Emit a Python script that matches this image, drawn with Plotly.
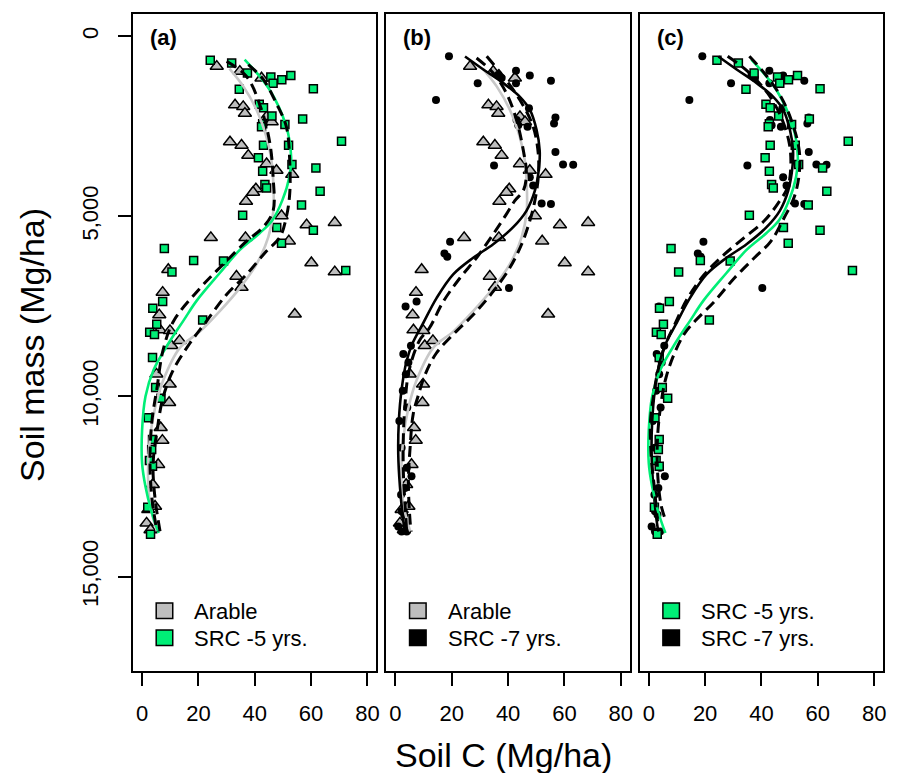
import plotly.graph_objects as go

# ---------------- data ----------------
arable_x = [26.5, 34.7, 42.4, 33.0, 35.9, 36.5, 44.2, 46.0, 31.2, 35.3, 37.7, 44.2, 47.7, 53.3,
            40.4, 39.4, 36.9, 49.5, 58.4, 68.4, 24.4, 36.7, 52.1, 60.1, 68.4, 9.3, 33.5, 35.3,
            7.3, 6.1, 54.2, 6.4, 9.9, 10.4, 13.3, 5.1, 9.8, 9.6, 6.6, 7.2, 5.7, 3.8, 2.2, 4.6,
            1.6, 3.0]
arable_y = [838, 977, 1164, 1910, 1956, 2143, 2236, 2376, 2935, 3028, 3308, 3541, 3727, 3839,
            4240, 4333, 4585, 4985, 5237, 5172, 5591, 5591, 5685, 6290, 6542, 6477, 6663, 6971,
            7111, 7735, 7716, 8154, 8172, 8590, 8450, 9380, 9658, 10169, 10866, 11219, 11888,
            12445, 13142, 13049, 13514, 13700]

src5_x = [24.2, 31.8, 37.4, 45.7, 49.6, 46.5, 52.8, 34.5, 60.8, 41.6, 43.1, 46.1, 57.0, 42.8,
          42.4, 50.7, 70.8, 43.1, 52.0, 41.3, 53.2, 61.7, 42.8, 63.2, 43.6, 44.2, 56.6, 35.7,
          47.8, 60.8, 49.5, 7.9, 28.9, 18.3, 10.6, 72.3, 7.3, 3.8, 21.5, 5.2, 2.7, 4.4, 3.7,
          4.8, 6.7, 2.2, 3.7, 3.4, 2.6, 3.7, 2.0, 3.0]
src5_y = [670, 744, 1024, 1136, 1210, 1304, 1089, 1471, 1462, 1891, 1984, 2217, 2301, 2431,
          2515, 2450, 2916, 3028, 3028, 3373, 3559, 3662, 3746, 4305, 4119, 4212, 4687, 4967,
          5312, 5386, 5750, 5890, 6243, 6225, 6542, 6505, 7362, 7549, 7875, 7996, 8218, 8283,
          8915, 9751, 10048, 10587, 11191, 11470, 11776, 11934, 13077, 13820]

src7_x = [19.0, 42.8, 36.5, 47.7, 37.7, 55.2, 29.2, 42.8, 14.4, 47.4, 56.8, 43.0, 56.3, 43.6,
          46.9, 56.8, 59.5, 63.1, 35.0, 47.7, 48.9, 51.9, 55.2, 19.4, 17.4, 18.4, 40.3, 3.6,
          7.5, 5.5, 2.8, 4.6, 3.7, 2.6, 4.2, 1.4, 2.2, 4.0, 5.7, 3.4, 2.0, 2.2, 3.1, 1.0, 2.2,
          4.0]
src7_y = [558, 959, 1071, 1089, 1164, 1238, 1304, 1304, 1770, 2003, 2254, 2329, 2422, 2469,
          2515, 3214, 3559, 3569, 3587, 3913, 4147, 4641, 4660, 5703, 6029, 6122, 6989, 7502,
          7362, 8590, 8822, 9054, 9380, 9844, 10308, 10680, 11423, 11980, 12213, 12538, 12724,
          13188, 13281, 13607, 13746, 13746]

# fitted curves
fit_arable_x = [31.0, 36.0, 40.6, 44.1, 45.9, 46.6, 46.6, 44.8, 40.6, 34.6, 27.5, 20.5, 13.4,
                7.4, 4.6, 2.8, 2.1, 2.8, 5.3]
fit_arable_y = [900, 1400, 2040, 2790, 3430, 4100, 4850, 5580, 6330, 7000, 7640, 8200, 8650,
                9570, 10320, 11150, 12070, 12990, 13750]

fit_src5_x = [36.4, 45.2, 51.2, 52.9, 52.3, 49.8, 46.3, 41.7, 34.6, 27.5, 19.4, 14.8, 9.5, 4.1,
              1.2, 0.0, 0.0, 1.2, 3.5, 5.9]
fit_src5_y = [650, 1480, 2510, 3350, 3900, 4550, 5100, 5470, 5940, 6580, 7340, 7880, 8510, 9260,
              10000, 10925, 11850, 12500, 13240, 13790]

fit_src7_x = [24.7, 31.2, 38.3, 44.1, 47.7, 50.1, 51.2, 51.0, 49.5, 46.5, 41.8, 34.7, 27.6, 20.5,
              14.6, 9.6, 6.2, 4.0, 2.2, 1.2, 1.0, 1.6, 2.8, 3.4]
fit_src7_y = [565, 925, 1304, 1678, 2040, 2598, 3169, 3629, 4287, 4847, 5301, 5775, 6151, 6611,
              7269, 8000, 8500, 9000, 9800, 10700, 11600, 12500, 13450, 13750]

# dashed lines, per panel
a_d1_x = [30.0, 37.1, 42.4, 45.4, 46.5, 46.5, 43.0, 37.1, 28.8, 20.5, 11.1, 7.4, 5.3, 3.5, 2.8, 3.5, 5.3]
a_d1_y = [700, 1120, 2040, 2990, 3900, 4850, 5300, 5690, 6330, 7000, 7920, 8730, 9760, 10680, 11800, 12830, 13750]
a_d2_x = [37.7, 43.0, 47.7, 51.2, 52.4, 52.4, 51.2, 48.9, 44.1, 37.1, 30.0, 22.5, 16.9, 10.9, 7.4, 5.3, 3.9, 4.6, 6.4]
a_d2_y = [790, 1200, 1870, 2510, 3450, 4380, 5020, 5580, 5970, 6610, 7170, 7950, 8530, 9290, 10040, 10960, 11880, 12830, 13750]

b_d1_x = [28.8, 34.7, 39.4, 43.0, 45.4, 46.5, 45.4, 42.4, 39.4, 34.7, 28.8, 22.9, 17.0, 12.0, 8.5, 4.8, 3.4, 2.8, 2.8, 3.4, 4.0]
b_d1_y = [605, 1023, 1583, 2330, 3169, 3821, 4287, 4565, 4939, 5496, 6151, 6711, 7363, 8107, 8451, 9290, 10210, 11150, 12070, 12990, 13750]
b_d2_x = [32.4, 38.3, 44.2, 48.9, 50.7, 50.7, 49.5, 47.7, 44.8, 40.6, 34.7, 27.6, 21.5, 14.5, 10.5, 8.0, 6.3, 5.2, 4.6, 5.2, 5.6]
b_d2_y = [557, 1118, 1770, 2514, 3261, 3913, 4565, 5125, 5775, 6430, 7085, 7734, 8200, 8800, 9400, 10000, 10490, 11430, 12350, 13467, 13750]

c_d1_x = [28.0, 35.1, 42.2, 46.9, 49.9, 50.4, 49.3, 45.7, 41.0, 33.9, 26.8, 19.7, 13.8, 9.1, 5.5, 3.0, 1.8, 0.6, 0.8, 2.0, 3.1]
c_d1_y = [557, 978, 1583, 2235, 2982, 3634, 4195, 4660, 5125, 5591, 6057, 6616, 7269, 8016, 8637, 9380, 9930, 10680, 11600, 12548, 13467]
c_d2_x = [35.7, 41.0, 46.9, 51.0, 53.4, 53.4, 51.6, 48.1, 43.4, 37.5, 30.4, 23.3, 16.5, 12.6, 9.0, 6.1, 4.3, 3.1, 3.1, 4.3, 6.1]
c_d2_y = [557, 1023, 1678, 2422, 3169, 3821, 4473, 5034, 5686, 6151, 6711, 7363, 7900, 8265, 8823, 9480, 10210, 11150, 12070, 12990, 13467]

x_ticks = [0, 20, 40, 60, 80]
y_ticks = [0, 5000, 10000, 15000]
y_ticktext = ["0", "5,000", "10,000", "15,000"]
panel_letters = ["(a)", "(b)", "(c)"]
legend_labels = [["Arable", "SRC -5 yrs."], ["Arable", "SRC -7 yrs."], ["SRC -5 yrs.", "SRC -7 yrs."]]

# ---------------- styles ----------------
OFF = 8  # page body margin
W, H = 901 - OFF, 773 - OFF
FONT = "Liberation Sans, Arial, sans-serif"
GREEN = "#00EE76"
GRAY_FILL = "#BEBEBE"
GRAY_LINE = "#C8C8C8"
legend_colors = [[GRAY_FILL, GREEN], [GRAY_FILL, "black"], [GREEN, "black"]]

panel_left = [133.5, 387.7, 641.9]
panel_w = 244.2
top_px, bot_px = 14.0, 670.7


def px(x):
    return (x - OFF) / W


def py(y):
    return 1 - (y - OFF) / H


styles = {
    "arable": dict(mode="markers", marker=dict(symbol="triangle-up", size=11.5, color=GRAY_FILL,
                                                 line=dict(color="black", width=1.5))),
    "src5": dict(mode="markers", marker=dict(symbol="square", size=8, color=GREEN,
                                               line=dict(color="black", width=1.5))),
    "src7": dict(mode="markers", marker=dict(symbol="circle", size=8, color="black",
                                               line=dict(color="black", width=0))),
}
pts = {"arable": (arable_x, arable_y), "src5": (src5_x, src5_y), "src7": (src7_x, src7_y)}
fits = {"arable": (fit_arable_x, fit_arable_y, GRAY_LINE),
        "src5": (fit_src5_x, fit_src5_y, GREEN),
        "src7": (fit_src7_x, fit_src7_y, "black")}
panel_groups = [["arable", "src5"], ["arable", "src7"], ["src7", "src5"]]
panel_fits = [["arable", "src5"], ["arable", "src7"], ["src7", "src5"]]
panel_dashed = [[(a_d1_x, a_d1_y), (a_d2_x, a_d2_y)],
                [(b_d1_x, b_d1_y), (b_d2_x, b_d2_y)],
                [(c_d1_x, c_d1_y), (c_d2_x, c_d2_y)]]

fig = go.Figure()
for i in range(3):
    xa = "x" if i == 0 else f"x{i+1}"
    ya = "y" if i == 0 else f"y{i+1}"
    for g in panel_groups[i]:
        xs, ys = pts[g]
        fig.add_trace(go.Scatter(x=xs, y=ys, xaxis=xa, yaxis=ya, hoverinfo="skip", **styles[g]))
    for g in panel_fits[i]:
        xs, ys, col = fits[g]
        fig.add_trace(go.Scatter(x=xs, y=ys, xaxis=xa, yaxis=ya, mode="lines",
                                 line=dict(color=col, width=2.6, shape="spline", smoothing=1.0),
                                 hoverinfo="skip"))
    for xs, ys in panel_dashed[i]:
        fig.add_trace(go.Scatter(x=xs, y=ys, xaxis=xa, yaxis=ya, mode="lines",
                                 line=dict(color="black", width=3, dash="11px,6px",
                                           shape="spline", smoothing=1.0),
                                 hoverinfo="skip"))

layout = dict(width=W, height=H, margin=dict(l=0, r=0, t=0, b=0),
              paper_bgcolor="white", plot_bgcolor="white", showlegend=False,
              font=dict(family=FONT, color="black"))
ydom = [py(bot_px), py(top_px)]
for i in range(3):
    sfx = "" if i == 0 else str(i + 1)
    xdom = [px(panel_left[i]), px(panel_left[i] + panel_w)]
    layout["xaxis" + sfx] = dict(
        domain=xdom, anchor="y" + sfx, range=[-3.2, 83.2], tickvals=x_ticks,
        ticks="outside", ticklen=14, tickwidth=1.5, tickcolor="black",
        showline=True, mirror=True, linecolor="black", linewidth=1.5,
        showgrid=False, zeroline=False, tickfont=dict(size=22, family=FONT),
        ticklabelstandoff=8)
    yax = dict(domain=ydom, anchor="x" + sfx, range=[17610, -615],
               showline=True, mirror=True, linecolor="black", linewidth=1.5,
               showgrid=False, zeroline=False)
    if i == 0:
        yax.update(tickvals=y_ticks, ticktext=y_ticktext, ticks="outside", ticklen=13,
                   tickwidth=1.5, tickcolor="black", tickangle=-90,
                   tickfont=dict(size=22, family=FONT), ticklabelstandoff=12)
    else:
        yax.update(showticklabels=False, ticks="")
    layout["yaxis" + sfx] = yax
fig.update_layout(**layout)

annotations = []
shapes = []
for i in range(3):
    L = panel_left[i]
    annotations.append(dict(text="<b>" + panel_letters[i] + "</b>", x=px(L + 30.5), y=py(37.5),
                            xref="paper", yref="paper", showarrow=False,
                            font=dict(size=22, family=FONT), xanchor="center", yanchor="middle"))
    for j, (lab, col) in enumerate(zip(legend_labels[i], legend_colors[i])):
        yc = 610.8 + j * 27.0
        shapes.append(dict(type="rect", xref="paper", yref="paper",
                           x0=px(L + 23.2), x1=px(L + 39.8), y0=py(yc - 7.8), y1=py(yc + 7.8),
                           fillcolor=col, line=dict(color="black", width=1.5)))
        annotations.append(dict(text=lab, x=px(L + 59.5), y=py(yc + 1), xref="paper", yref="paper",
                                showarrow=False, font=dict(size=22, family=FONT),
                                xanchor="left", yanchor="middle"))

annotations.append(dict(text="Soil C (Mg/ha)", x=px(505), y=py(755), xref="paper", yref="paper",
                        showarrow=False, font=dict(size=34, family=FONT),
                        xanchor="center", yanchor="middle"))
annotations.append(dict(text="Soil mass (Mg/ha)", x=px(32), y=py(345), xref="paper", yref="paper",
                        showarrow=False, font=dict(size=34, family=FONT), textangle=-90,
                        xanchor="center", yanchor="middle"))
fig.update_layout(annotations=annotations, shapes=shapes)

fig.write_html("out.html")
